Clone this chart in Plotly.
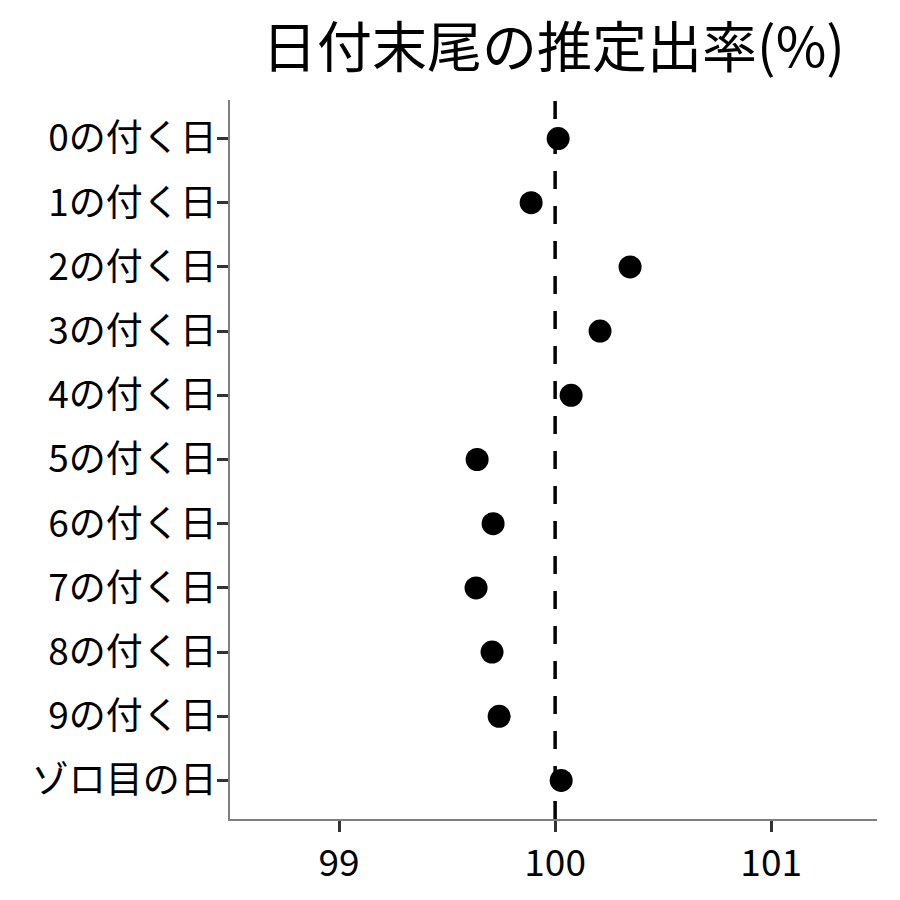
import plotly.graph_objects as go

categories = ["0の付く日", "1の付く日", "2の付く日", "3の付く日", "4の付く日",
              "5の付く日", "6の付く日", "7の付く日", "8の付く日", "9の付く日", "ゾロ目の日"]
rates = [100.014, 99.889, 100.347, 100.208, 100.074,
         99.639, 99.713, 99.634, 99.708, 99.741, 100.028]
x_ticks = [99, 100, 101]
ref_value = 100
title_text = "日付末尾の推定出率(%)"

font = "Noto Sans CJK JP"

fig = go.Figure()
fig.add_trace(go.Scatter(
    x=rates, y=categories, mode="markers",
    marker=dict(color="black", size=23),
    showlegend=False,
))
fig.add_shape(type="line", xref="x", yref="paper", x0=ref_value, x1=ref_value, y0=0, y1=1,
              line=dict(color="black", width=3.5, dash="18px,17px"))

fig.update_layout(
    width=892, height=892,
    paper_bgcolor="white", plot_bgcolor="white",
    margin=dict(l=222, r=23, t=92, b=81),
    title=dict(text=title_text, x=0.5, xref="paper", xanchor="center",
               y=1 - 40 / 892, yanchor="middle",
               font=dict(family=font, size=55, color="black")),
    font=dict(family=font, color="black"),
)
fig.update_xaxes(
    range=[98.495, 101.49], tickvals=x_ticks, ticktext=[str(v) for v in x_ticks],
    showgrid=False, zeroline=False, showline=True, linecolor="#7f7f7f", linewidth=1.5,
    ticks="outside", ticklen=11, tickwidth=3, tickcolor="#333333",
    tickfont=dict(family=font, size=37, color="black"),
)
fig.update_yaxes(
    type="category", categoryorder="array", categoryarray=categories,
    range=[10.6, -0.6],
    showgrid=False, zeroline=False, showline=True, linecolor="#7f7f7f", linewidth=1.5,
    ticks="outside", ticklen=11, tickwidth=3, tickcolor="#333333",
    ticklabelstandoff=-7,
    tickfont=dict(family=font, size=37, color="black"),
)

fig.write_html("out.html")
